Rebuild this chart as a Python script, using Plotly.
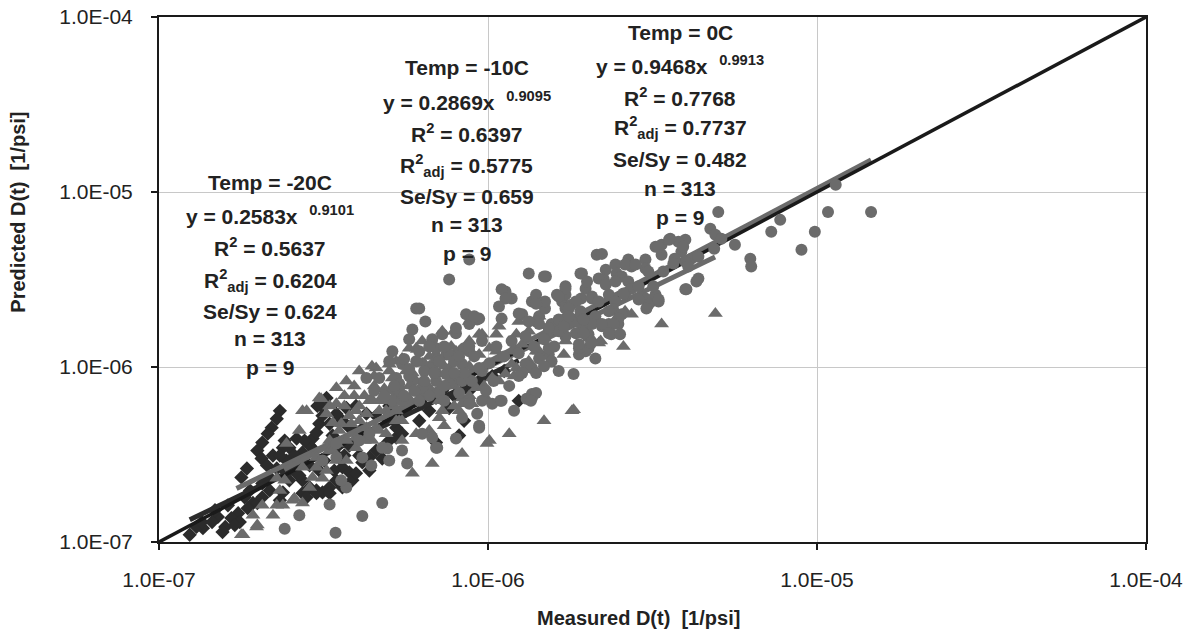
import numpy as np
import plotly.graph_objects as go

UNIT = 1e-7  # point values below are in units of 1e-7 1/psi

# Temp = -20C (dark diamonds)
meas_m20 = [2.33, 2.28, 2.20, 2.14, 2.06, 1.99, 2.05, 1.85, 1.78, 2.13,
            2.41, 2.38, 2.22, 1.93, 1.86, 1.74, 1.66, 1.59, 1.51, 1.45,
            1.36, 1.30, 1.24, 1.35, 1.76, 1.70, 1.56, 1.99, 2.06, 2.17,
            2.33, 2.38, 2.49, 2.62, 2.55, 2.71, 2.73, 2.87, 2.93, 3.01,
            3.07, 3.14, 3.03, 3.23, 3.11, 3.30, 3.37, 3.46, 3.53, 3.61,
            3.79, 3.87, 3.46, 3.30, 3.14, 3.01, 2.87, 2.73, 2.73, 2.81,
            3.30, 3.61, 3.97, 4.15, 4.36, 4.57, 4.77, 5.01, 5.26, 5.48,
            3.97, 3.79, 3.61, 3.46, 3.71, 3.97, 4.27, 4.57, 4.90, 5.26,
            2.62, 2.49, 2.44, 2.28, 2.17, 2.06, 8.17, 4.15, 4.77, 4.36,
            3.61, 3.01, 5.64, 6.31, 6.95, 7.26, 7.62, 9.20, 9.59, 10.3,
            12.4, 6.95, 5.01, 5.19, 6.18, 6.63, 7.89, 8.77, 11.2, 8.46,
            2.49, 2.67, 2.87, 3.07, 2.58, 2.77, 2.97, 3.18, 3.41, 3.66,
            3.79, 4.06, 2.33, 2.41, 1.89, 1.82, 1.62, 1.48]
pred_m20 = [5.62, 5.06, 4.50, 4.16, 3.70, 3.33, 3.00, 2.63, 2.34, 2.74,
            3.80, 3.46, 3.12, 1.67, 1.56, 1.46, 1.37, 1.22, 1.39, 1.30,
            1.20, 1.22, 1.10, 1.30, 1.30, 1.25, 1.14, 1.67, 1.80, 1.97,
            1.73, 1.92, 2.25, 2.47, 2.67, 2.92, 3.25, 3.56, 3.90, 4.22,
            4.74, 5.27, 5.99, 6.66, 5.99, 4.74, 4.06, 3.46, 3.04, 2.67,
            2.50, 2.25, 2.25, 2.05, 1.92, 1.97, 2.05, 2.25, 1.90, 1.80,
            1.90, 2.16, 2.47, 2.85, 3.04, 3.33, 3.46, 3.80, 3.95, 4.16,
            4.16, 4.50, 4.93, 5.41, 5.83, 5.99, 5.41, 5.27, 5.06, 4.50,
            3.90, 3.46, 2.92, 2.63, 2.34, 2.16, 4.06, 4.45, 3.00, 2.56,
            2.05, 1.90, 5.62, 6.16, 6.66, 7.31, 5.83, 8.01, 8.66, 8.88,
            6.41, 3.70, 5.99, 4.93, 4.93, 5.62, 6.84, 7.31, 9.49, 4.93,
            2.56, 2.40, 2.74, 2.56, 3.12, 3.80, 3.33, 2.92, 2.56, 3.12,
            3.56, 3.12, 3.12, 2.56, 1.97, 1.80, 1.62, 1.52]

# Temp = -10C (grey triangles)
meas_m10 = [2.73, 3.11, 3.23, 3.46, 3.37, 3.58, 3.84, 3.97, 4.36, 4.67,
            4.90, 5.26, 5.64, 5.48, 4.57, 4.27, 3.97, 3.71, 3.46, 3.30,
            3.01, 3.01, 3.23, 2.73, 2.67, 2.44, 2.93, 3.14, 2.28, 2.41,
            2.33, 2.28, 2.38, 2.58, 2.73, 2.06, 1.93, 2.22, 1.99, 1.78,
            2.87, 3.46, 3.71, 3.97, 4.44, 4.90, 7.26, 6.31, 5.76, 5.48,
            5.01, 4.57, 4.06, 3.71, 3.46, 3.07, 2.81, 6.95, 7.62, 8.77,
            9.86, 10.1, 8.34, 6.77, 5.89, 5.26, 4.77, 4.27, 6.05, 6.63,
            7.11, 8.17, 8.77, 9.59, 9.40, 8.34, 7.26, 6.05, 5.48, 3.37,
            2.55, 1.98, 1.80, 6.10, 6.31, 6.77, 5.12, 5.01, 5.64, 7.99,
            9.40, 10.1, 10.8, 11.8, 11.3, 10.3, 9.20, 8.34, 8.93, 8.17,
            7.11, 9.86, 11.8, 12.7, 14.0, 14.9, 16.4, 17.2, 20.2, 21.7,
            18.0, 14.8, 11.6, 9.93, 49.1, 33.7, 25.8, 22.0, 20.7, 27.3,
            24.4, 17.0, 14.3, 18.2, 15.3, 12.2, 10.6, 26.1, 4.44, 5.26,
            6.05, 10.6, 12.2, 20.7, 12.4, 14.3, 15.9, 18.2, 10.8, 13.3,
            8.77, 7.89, 21.7, 7.62, 6.63, 5.76, 8.77, 7.89, 5.19, 4.51,
            3.92, 3.66, 4.21, 4.84, 6.63, 7.36, 4.67, 5.19, 5.76, 6.40,
            7.11, 7.89, 8.77, 9.73, 10.8, 12.0, 13.3, 15.3, 6.18, 5.37,
            4.67, 4.06, 3.79, 3.53, 3.30, 4.21, 3.92, 4.51, 5.01, 6.63,
            7.36, 8.17, 4.06, 4.42, 4.84, 5.26, 5.89, 6.40, 7.01, 7.73,
            3.66, 3.30]
pred_m10 = [5.62, 6.58, 5.41, 6.16, 4.80, 4.74, 4.74, 5.62, 6.41, 6.41,
            5.62, 5.62, 6.41, 4.93, 4.50, 4.50, 3.95, 3.80, 3.65, 3.33,
            3.04, 2.67, 2.56, 2.67, 4.33, 3.65, 2.34, 2.31, 2.31, 2.25,
            1.97, 1.62, 1.62, 1.78, 1.67, 1.62, 1.42, 1.42, 1.25, 1.10,
            2.05, 2.92, 2.92, 3.46, 3.80, 4.16, 16.0, 14.1, 12.8, 11.2,
            10.4, 9.87, 9.49, 8.32, 7.60, 6.66, 5.62, 11.8, 9.87, 8.66,
            6.66, 3.80, 3.20, 2.81, 2.47, 4.93, 6.41, 5.41, 8.32, 7.60,
            9.12, 12.3, 14.1, 15.4, 11.8, 6.16, 5.62, 4.16, 3.80, 3.33,
            1.73, 1.22, 1.10, 12.6, 10.5, 10.4, 8.66, 7.31, 9.49, 12.3,
            15.4, 12.8, 11.2, 10.4, 9.12, 8.66, 7.60, 6.66, 6.16, 5.62,
            5.13, 6.41, 12.3, 13.5, 12.3, 14.6, 16.7, 14.1, 14.6, 13.7,
            5.62, 4.93, 4.16, 3.65, 20.2, 17.6, 13.1, 14.1, 14.4, 20.0,
            18.7, 11.8, 12.3, 5.70, 10.4, 9.87, 12.3, 20.8, 10.1, 10.8,
            12.8, 15.4, 15.4, 14.1, 18.2, 19.5, 17.1, 18.2, 17.1, 16.0,
            18.2, 16.0, 18.2, 8.88, 10.1, 7.80, 10.1, 7.80, 6.84, 7.80,
            6.84, 5.99, 3.80, 3.46, 4.33, 4.62, 5.62, 5.99, 6.58, 6.84,
            6.41, 5.99, 6.84, 7.80, 8.32, 8.88, 10.8, 11.5, 7.10, 4.93,
            4.33, 4.93, 5.27, 4.33, 3.80, 6.84, 7.80, 8.88, 9.49, 11.5,
            10.1, 8.32, 5.99, 6.58, 7.50, 8.32, 9.23, 10.5, 11.4, 13.1,
            6.84, 5.99]

# Temp = 0C (grey circles)
meas_0 = [2.41, 2.67, 3.30, 3.44, 4.15, 4.77, 3.71, 3.58, 4.42, 4.94,
          5.48, 5.68, 5.01, 6.95, 7.99, 9.40, 9.27, 6.18, 6.45, 7.26,
          7.99, 8.58, 9.40, 8.77, 7.47, 6.95, 5.12, 5.01, 5.48, 6.05,
          6.77, 4.67, 4.27, 5.26, 7.62, 8.34, 9.59, 8.77, 9.59, 4.06,
          4.36, 4.77, 4.15, 3.46, 3.46, 3.14, 8.77, 7.62, 11.3, 11.8,
          13.3, 15.0, 19.1, 19.8, 21.4, 17.2, 16.2, 16.8, 11.0, 14.3,
          15.3, 18.9, 20.2, 9.59, 7.62, 7.11, 5.89, 5.76, 6.77, 9.27,
          8.77, 5.56, 7.36, 13.6, 14.0, 14.9, 17.2, 19.2, 20.7, 23.3,
          17.9, 12.7, 14.0, 15.6, 17.2, 19.8, 23.7, 19.8, 18.9, 21.2,
          15.3, 15.6, 13.0, 13.6, 14.0, 12.7, 18.2, 13.6, 13.1, 12.0,
          10.9, 10.3, 9.40, 7.01, 6.77, 6.31, 8.34, 8.77, 9.86, 8.93,
          9.40, 8.34, 7.47, 6.95, 6.31, 5.89, 5.37, 5.12, 5.48, 50.1,
          47.4, 49.1, 51.2, 39.8, 37.9, 35.8, 33.7, 32.3, 56.3, 33.7,
          38.7, 41.5, 39.8, 30.1, 26.7, 27.3, 30.1, 30.7, 22.2, 22.8,
          24.4, 24.6, 25.5, 19.3, 20.0, 22.5, 21.7, 22.8, 24.4, 26.7,
          27.3, 31.4, 33.0, 30.1, 30.7, 32.3, 43.6, 43.0, 39.8, 62.7,
          63.1, 72.6, 77.3, 89.7, 98.5, 108.0, 114.0, 146.0, 14.8, 11.0,
          11.3, 17.2, 16.4, 14.9, 14.0, 18.5, 17.2, 19.1, 20.7, 24.4,
          24.0, 25.5, 21.2, 20.7, 19.3, 22.2, 23.3, 18.5, 17.2, 16.4,
          15.3, 14.3, 13.3, 12.4, 9.08, 8.46, 7.99, 20.2, 18.9, 15.3,
          14.3, 13.6, 14.0, 13.5, 11.0, 25.2, 24.9, 48.7, 35.5, 33.0,
          39.2, 36.9, 26.1, 28.1, 28.7, 26.1, 30.3, 33.0, 24.9, 24.1,
          22.2, 23.3, 19.5, 20.6, 18.9, 17.6, 17.9, 40.1, 6.05, 5.37,
          5.76, 6.40, 7.11, 7.89, 8.46, 9.08, 10.1, 10.6, 11.2, 11.8,
          12.4, 13.0, 13.8, 14.8, 15.9, 16.4, 17.0, 17.6, 19.5, 21.7,
          23.3, 25.8, 28.7, 31.8, 34.1, 40.6, 43.6, 36.6, 6.63, 6.18,
          7.36, 8.17, 10.4, 11.6, 12.4, 14.8, 16.4, 8.77, 10.8, 4.51,
          4.84, 5.19, 5.56, 5.97, 6.40, 6.86, 7.36, 7.89, 8.17, 6.18,
          6.63, 5.76]
pred_0 = [1.19, 1.42, 1.64, 1.13, 1.41, 1.67, 2.05, 2.25, 2.74, 3.42,
          3.33, 2.81, 2.92, 3.46, 3.90, 4.50, 5.41, 21.6, 18.2, 15.4,
          15.6, 20.0, 18.9, 12.3, 11.8, 12.8, 12.3, 10.8, 10.4, 10.8,
          9.87, 8.66, 8.66, 8.66, 8.01, 8.32, 9.49, 6.41, 6.41, 3.80,
          4.16, 3.46, 3.04, 3.65, 3.04, 2.92, 41.1, 31.6, 27.0, 24.6,
          34.2, 32.9, 34.2, 28.0, 43.8, 28.9, 25.9, 23.7, 18.9, 19.5,
          16.0, 18.2, 15.4, 14.1, 11.8, 10.8, 16.4, 14.4, 14.4, 18.7,
          17.6, 11.1, 13.1, 23.7, 25.9, 21.6, 25.9, 24.6, 25.3, 25.9,
          22.7, 20.0, 18.2, 17.6, 18.9, 16.0, 15.4, 12.3, 11.8, 11.2,
          11.8, 10.8, 10.4, 9.87, 9.23, 9.23, 9.12, 6.66, 6.58, 5.62,
          6.41, 6.16, 4.62, 3.46, 3.95, 4.16, 5.13, 6.16, 7.31, 8.32,
          9.87, 10.4, 9.12, 8.32, 7.60, 8.32, 8.01, 6.41, 6.41, 76.9,
          61.7, 56.9, 54.0, 53.4, 52.0, 54.0, 49.9, 48.6, 49.9, 43.8,
          45.6, 41.6, 40.0, 41.1, 41.1, 37.5, 36.5, 35.1, 44.3, 36.0,
          38.5, 34.2, 32.9, 34.2, 30.8, 31.6, 32.0, 29.6, 30.8, 30.8,
          28.0, 23.7, 23.7, 24.6, 22.7, 25.9, 32.0, 30.8, 27.8, 41.6,
          37.5, 59.3, 69.3, 46.8, 59.3, 76.9, 110.0, 76.9, 32.9, 27.8,
          24.6, 28.0, 25.3, 23.7, 23.0, 23.7, 21.6, 20.8, 24.6, 23.7,
          21.3, 20.0, 19.5, 17.6, 17.1, 17.1, 17.6, 15.6, 15.0, 16.0,
          16.7, 17.6, 18.2, 20.2, 19.5, 12.8, 16.7, 12.8, 12.8, 12.8,
          11.2, 7.01, 7.10, 6.41, 6.41, 15.4, 17.6, 47.4, 53.4, 48.6,
          48.6, 41.6, 38.5, 38.5, 28.9, 25.9, 21.6, 24.3, 18.9, 17.6,
          17.6, 15.6, 15.6, 13.7, 13.5, 21.6, 18.2, 27.8, 21.6, 7.31,
          8.88, 9.49, 7.10, 10.8, 9.23, 11.5, 10.5, 13.1, 11.5, 14.1,
          12.0, 15.0, 13.1, 14.4, 13.1, 18.7, 17.1, 19.5, 18.7, 23.7,
          20.8, 26.3, 24.3, 28.9, 35.1, 37.5, 42.7, 39.0, 6.84, 6.41,
          6.41, 7.10, 8.32, 7.80, 8.88, 10.1, 9.49, 13.1, 22.2, 7.31,
          6.84, 7.80, 6.84, 7.31, 8.32, 9.23, 7.80, 9.23, 11.5, 12.3,
          13.1, 9.74]

# power-law trend lines y = a * x^b and the measured span each covers [1/psi]
fit_m20 = dict(a=0.2583, b=0.9101, x0=1.24e-7, x1=1.24e-6)
fit_m10 = dict(a=0.2869, b=0.9095, x0=1.72e-7, x1=4.9e-6)
fit_0 = dict(a=0.9468, b=0.9913, x0=2.4e-7, x1=1.46e-5)

# equality line and axis ticks
equality = [1e-7, 1e-4]
tick_vals = [1e-7, 1e-6, 1e-5, 1e-4]
tick_text = ["1.0E-07", "1.0E-06", "1.0E-05", "1.0E-04"]

# fitted statistics printed on the chart
labels_m20 = ["Temp = -20C", "y = 0.2583x &nbsp;<sup>0.9101</sup>", "R<sup>2</sup> = 0.5637",
              "R<sup>2</sup><sub>adj</sub> = 0.6204", "Se/Sy = 0.624", "n = 313", "p = 9"]
labels_m10 = ["Temp = -10C", "y = 0.2869x &nbsp;<sup>0.9095</sup>", "R<sup>2</sup> = 0.6397",
              "R<sup>2</sup><sub>adj</sub> = 0.5775", "Se/Sy = 0.659", "n = 313", "p = 9"]
labels_0 = ["Temp = 0C", "y = 0.9468x &nbsp;<sup>0.9913</sup>", "R<sup>2</sup> = 0.7768",
            "R<sup>2</sup><sub>adj</sub> = 0.7737", "Se/Sy = 0.482", "n = 313", "p = 9"]

FONT = "Liberation Sans, Arial, sans-serif"
DARK = "#2b2b2b"
GREY = "#6b6b6b"


def scaled(vals):
    return [v * UNIT for v in vals]


def fit_line(fit):
    xs = np.geomspace(fit["x0"], fit["x1"], 30)
    return xs, fit["a"] * xs ** fit["b"]


fig = go.Figure()

fig.add_trace(go.Scatter(x=scaled(meas_m20), y=scaled(pred_m20), mode="markers",
                         marker=dict(symbol="diamond", size=11, color=DARK, line_width=0)))
for fit, col in [(fit_m20, DARK), (fit_m10, GREY), (fit_0, GREY)]:
    fx, fy = fit_line(fit)
    fig.add_trace(go.Scatter(x=fx, y=fy, mode="lines", line=dict(color=col, width=5)))
fig.add_trace(go.Scatter(x=equality, y=equality, mode="lines", line=dict(color="#1a1a1a", width=3.5)))
fig.add_trace(go.Scatter(x=scaled(meas_m10), y=scaled(pred_m10), mode="markers",
                         marker=dict(symbol="triangle-up", size=13, color=GREY, line_width=0)))
fig.add_trace(go.Scatter(x=scaled(meas_0), y=scaled(pred_0), mode="markers",
                         marker=dict(symbol="circle", size=12, color=GREY, line_width=0)))

# text blocks: one annotation per line so the spacing follows the original
blocks = [
    (labels_m20, 0.1125, [0.684, 0.623, 0.562, 0.499, 0.440, 0.387, 0.333]),
    (labels_m10, 0.312, [0.903, 0.840, 0.779, 0.718, 0.659, 0.604, 0.549]),
    (labels_0, 0.528, [0.971, 0.909, 0.848, 0.789, 0.728, 0.674, 0.619]),
]
for lines, xc, ys in blocks:
    for txt, yy in zip(lines, ys):
        fig.add_annotation(text=f"<b>{txt}</b>", x=xc, y=yy, xref="paper", yref="paper",
                           xanchor="center", yanchor="middle", showarrow=False,
                           font=dict(family=FONT, size=21, color="#222"))

fig.add_annotation(text="<b>Measured D(t) &nbsp;[1/psi]</b>", x=0.486, y=-0.145, xref="paper", yref="paper",
                   xanchor="center", yanchor="middle", showarrow=False,
                   font=dict(family=FONT, size=20, color="#222"))
fig.add_annotation(text="<b>Predicted D(t) &nbsp;[1/psi]</b>", x=-0.143, y=0.629, xref="paper", yref="paper",
                   xanchor="center", yanchor="middle", textangle=-90, showarrow=False,
                   font=dict(family=FONT, size=20, color="#222"))

axis_style = dict(
    type="log", range=[-7, -4], tickmode="array", tickvals=tick_vals, ticktext=tick_text,
    showgrid=True, gridcolor="#c8c8c8", gridwidth=1.2, zeroline=False,
    showline=True, linecolor="#1a1a1a", linewidth=2, mirror=True,
    ticks="outside", ticklen=6, tickwidth=1.5, tickcolor="#1a1a1a",
    tickfont=dict(family=FONT, size=21, color="#222"), automargin=False,
    ticklabeloverflow="allow",
)
fig.update_xaxes(**axis_style, ticklabelstandoff=12)
fig.update_yaxes(**axis_style, ticklabelstandoff=14)

fig.update_layout(
    width=1190, height=631,
    margin=dict(l=159, r=44, t=17, b=89),
    plot_bgcolor="white", paper_bgcolor="white",
    showlegend=False,
)

# drop the page's default body margin so the figure fills the window exactly,
# and keep the hover toolbar out of the picture
fig.write_html("out.html", config={"displayModeBar": False},
               post_script="document.body.style.margin = '0';")
